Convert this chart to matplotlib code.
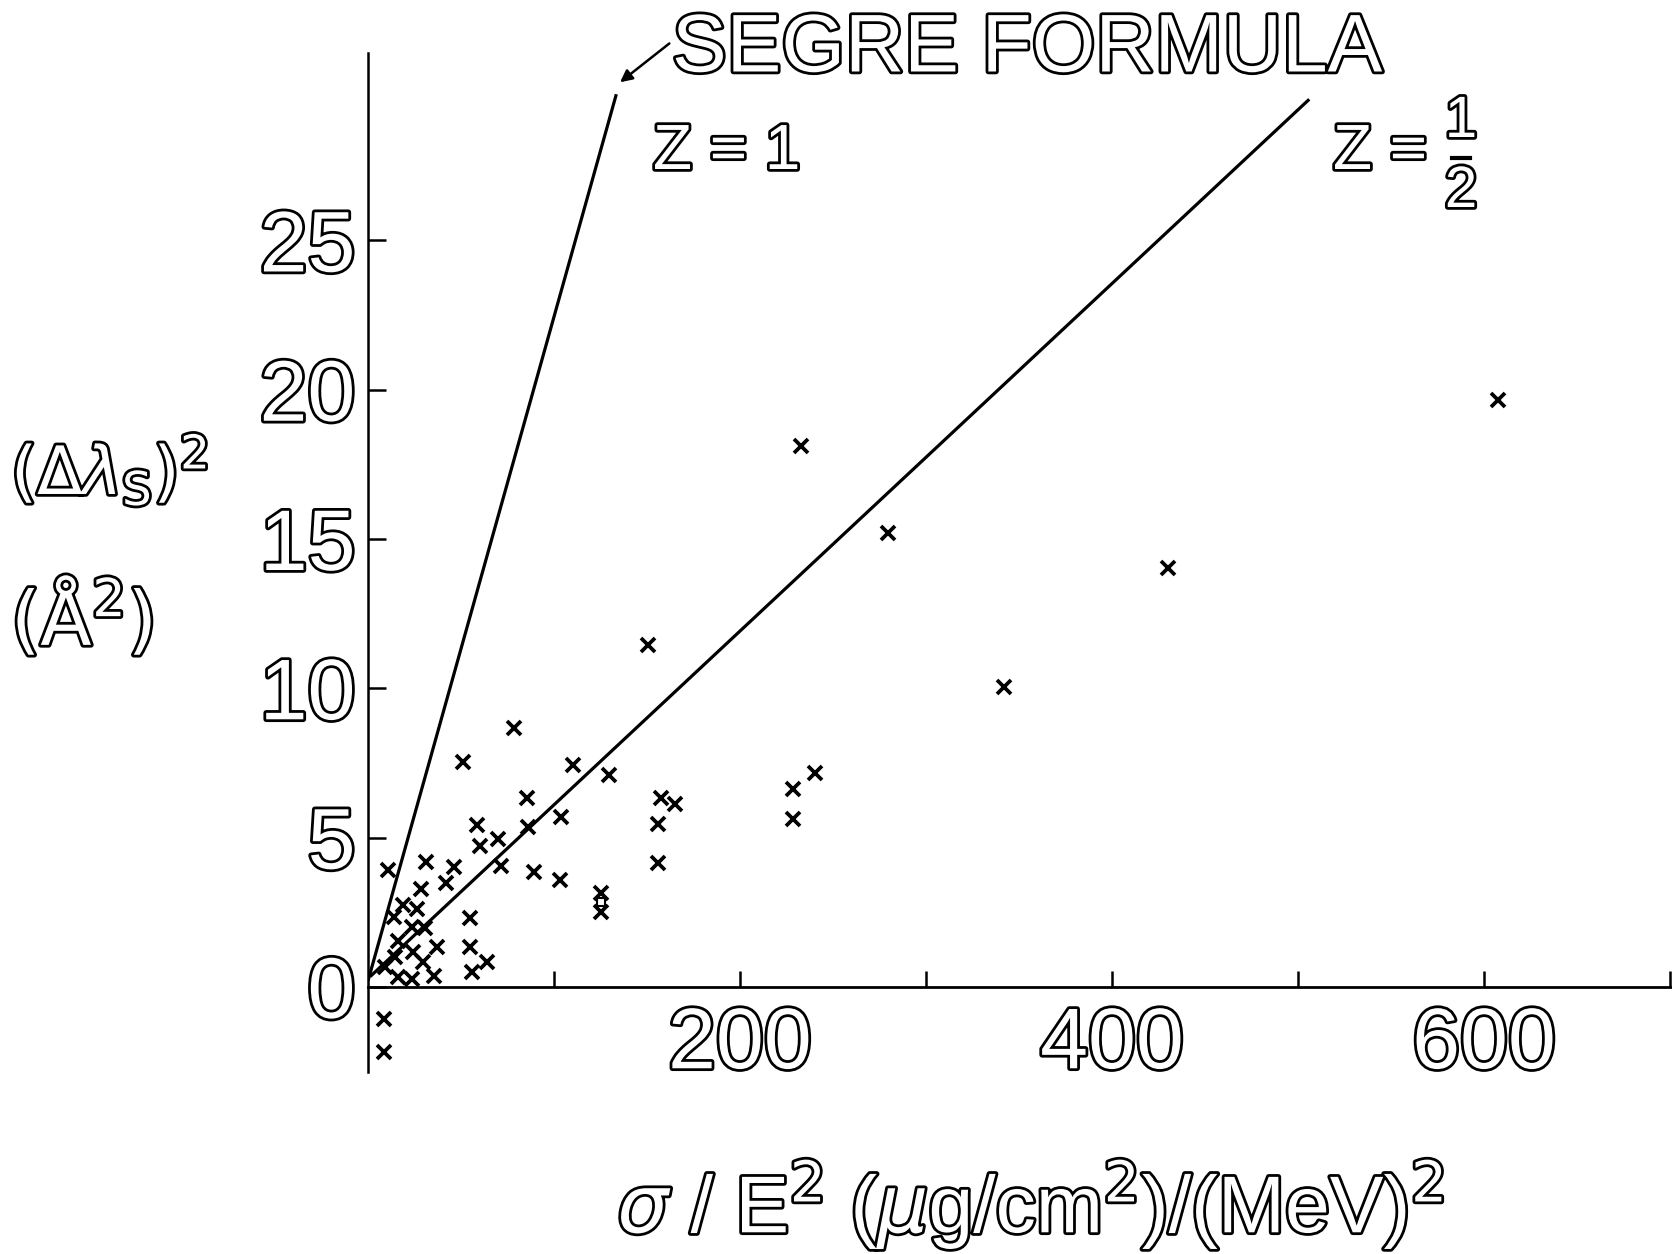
import matplotlib
matplotlib.use("Agg")
import matplotlib.pyplot as plt
import matplotlib.patheffects as pe
from matplotlib.lines import Line2D

plt.rcParams['font.family'] = ['Liberation Sans', 'DejaVu Sans']
plt.rcParams['mathtext.fontset'] = 'dejavusans'

# ---- data ----
x_pts = [58.4, 85.9, 69.7, 60.2, 71.5, 89.4, 10.9, 31.2, 46.4, 41.8,
         28.5, 19.0, 14.1, 26.2, 23.5, 30.6, 54.8, 16.3, 36.9, 54.8,
         24.4, 29.7, 14.5, 63.8, 55.8, 9.1, 16.3, 23.8, 35.6, 8.8, 8.8,
         78.5, 51.2, 110.4, 129.7, 85.3, 157.4, 165.1, 103.6, 156.1,
         103.2, 156.1, 125.3, 125.3,
         150.7, 228.3, 240.3, 228.7,
         232.6, 279.7, 341.9, 607.5, 429.9]
y_pts = [5.42, 5.37, 4.94, 4.72, 4.05, 3.86, 3.91, 4.19, 4.03, 3.49,
         3.27, 2.74, 2.33, 2.60, 2.02, 1.96, 2.30, 1.55, 1.35, 1.35,
         1.18, 0.84, 1.01, 0.84, 0.51, 0.68, 0.34, 0.25, 0.37, -1.09, -2.17,
         8.66, 7.54, 7.43, 7.10, 6.32, 6.32, 6.13, 5.68, 5.46,
         3.58, 4.14, 3.15, 2.52,
         11.45, 6.62, 7.17, 5.61,
         18.11, 15.19, 10.03, 19.65, 14.02]
sq_x = [125.3]
sq_y = [2.84]

segre_z1_x = [0.0, 133.5]
segre_z1_y = [0.2, 29.9]
segre_zhalf_x = [1.1, 506.0]
segre_zhalf_y = [0.34, 29.73]

xticks = [100, 200, 300, 400, 500, 600, 700]
xticklabels = ['', '200', '', '400', '', '600', '']
yticks = [0, 5, 10, 15, 20, 25]
yticklabels = ['0', '5', '10', '15', '20', '25']

W, H = 1672, 1254
fig = plt.figure(figsize=(W / 100, H / 100), dpi=100)
ax = fig.add_axes([368 / W, 182.4 / H, 1 - 368 / W, (1071.6 - 53.3) / H])

outline = [pe.Stroke(linewidth=4, foreground='black'), pe.Normal()]

ax.plot(segre_z1_x, segre_z1_y, color='black', lw=2.3, solid_capstyle='butt')
ax.plot(segre_zhalf_x, segre_zhalf_y, color='black', lw=2.3, solid_capstyle='butt')
ax.plot(x_pts, y_pts, linestyle='none', marker='x', ms=10, mew=2.7, color='black',
        clip_on=False)
ax.plot(sq_x, sq_y, linestyle='none', marker='s', ms=6, mew=1.5, mfc='white',
        mec='black', clip_on=False)

ax.set_xlim(0, 701)
ax.set_ylim(-2.84, 31.27)

for s in ['top', 'right']:
    ax.spines[s].set_visible(False)
ax.spines['bottom'].set_position(('data', 0))
ax.spines['bottom'].set_linewidth(2.0)
ax.spines['left'].set_linewidth(1.8)

ax.set_xticks(xticks)
ax.set_xticklabels(xticklabels)
ax.set_yticks(yticks)
ax.set_yticklabels(yticklabels)
ax.tick_params(axis='x', direction='in', length=11.5, width=1.8, pad=14,
               labelsize=62)
ax.tick_params(axis='y', direction='in', length=13, width=1.8, pad=9,
               labelsize=62)
for lab in ax.get_xticklabels() + ax.get_yticklabels():
    lab.set_color('white')
    lab.set_path_effects(outline)

# arrow for Segre formula label
ax.annotate('', xy=(135.5, 30.3), xytext=(162.0, 31.6),
            arrowprops=dict(arrowstyle='-|>', color='black', lw=1.8,
                            mutation_scale=18, shrinkA=0, shrinkB=0),
            annotation_clip=False)

def ftext(x, y, s, size, ha='left', va='center'):
    fig.text(x / W, 1 - y / H, s, fontsize=size, ha=ha, va=va, color='white',
             path_effects=outline)

ftext(672, 50.5, 'SEGRE FORMULA', 59)
ftext(653, 152, 'Z = 1', 46)
ftext(1333, 152, 'Z =', 46)
ftext(1461, 122, '1', 42, ha='center')
ftext(1461, 192, '2', 42, ha='center')
fig.add_artist(Line2D([1452 / W, 1470 / W], [1 - 158 / H, 1 - 158 / H],
                      color='black', lw=3))

# axis labels
ftext(11, 470, r'$(\Delta\lambda_{\mathrm{S}})^{2}$', 48)
ftext(11, 618, r'$(\mathrm{\AA}^{2})$', 54)
ftext(1030, 1205, r'$\sigma$ / E$^{2}$ ($\mu$g/cm$^{2}$)/(MeV)$^{2}$', 58,
      ha='center')

fig.savefig('out.png', dpi=100, facecolor='white')
